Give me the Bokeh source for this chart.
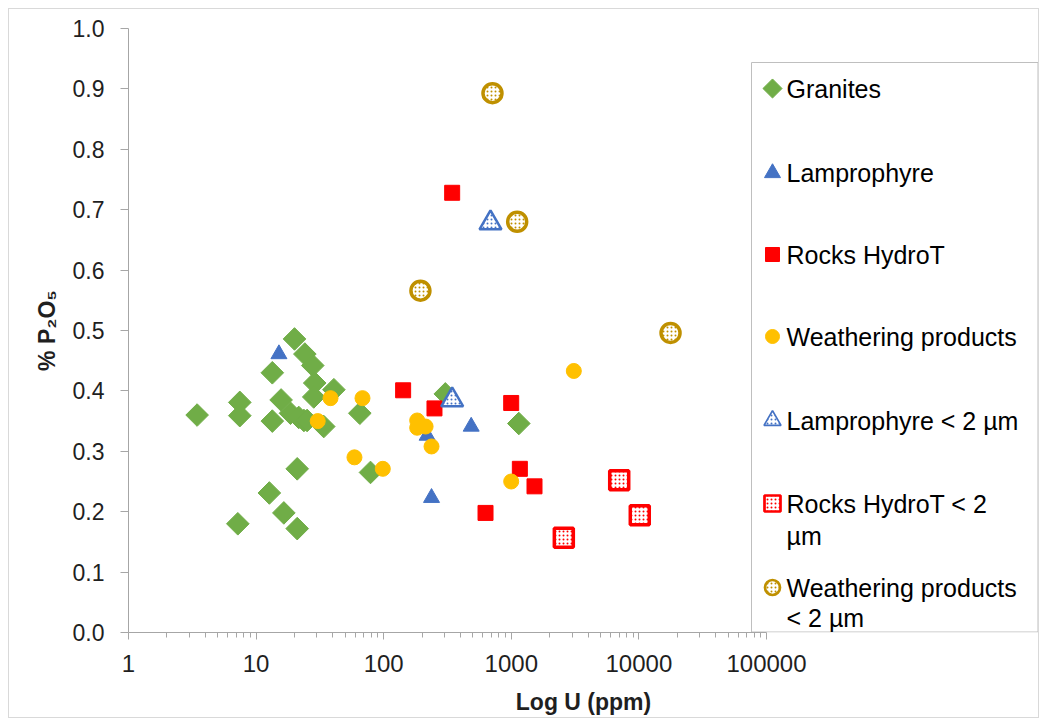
import numpy as np
from bokeh.plotting import figure
from bokeh.models import Range1d, FixedTicker, PrintfTickFormatter, NumeralTickFormatter
from bokeh.core.properties import value
from bokeh.embed import file_html
from bokeh.resources import INLINE

# ---------------- data ----------------
granite_u = [3.45, 7.19, 7.45, 7.45, 13.4, 13.4, 12.7, 15.7, 16.5, 20.0, 18.6, 21.0, 21.0,
             24.1, 23.7, 21.6, 25.1, 27.8, 28.8, 28.3, 33.9, 40.7, 65.0, 78.8, 304, 1145]
granite_p = [0.360, 0.180, 0.381, 0.359, 0.430, 0.350, 0.231, 0.385, 0.198, 0.486, 0.363, 0.271, 0.172,
             0.461, 0.351, 0.356, 0.351, 0.442, 0.413, 0.390, 0.341, 0.402, 0.363, 0.265, 0.395, 0.346]

lamp_u = [15.1, 219, 485, 237]
lamp_p = [0.461, 0.326, 0.341, 0.223]

rocks_u = [344, 142, 250, 998, 1167, 1520, 628]
rocks_p = [0.728, 0.401, 0.371, 0.380, 0.271, 0.242, 0.198]

weath_u = [38.3, 68.2, 30.4, 59.0, 98.4, 183, 213, 183, 237, 998, 3090]
weath_p = [0.388, 0.388, 0.350, 0.290, 0.271, 0.351, 0.341, 0.339, 0.308, 0.250, 0.433]

lamp2_u = [344, 687]
lamp2_p = [0.385, 0.678]

rocks2_u = [7010, 10160, 2580]
rocks2_p = [0.252, 0.194, 0.157]

weath2_u = [712, 1112, 194, 17700]
weath2_p = [0.893, 0.680, 0.566, 0.496]

X_TICKS = [1, 10, 100, 1000, 10000, 100000]
X_MINOR = [m * d for d in [1, 10, 100, 1000, 10000] for m in [2, 3, 4, 5, 6, 7, 8, 9]]
Y_TICKS = [0.0, 0.1, 0.2, 0.3, 0.4, 0.5, 0.6, 0.7, 0.8, 0.9, 1.0]

LEGEND_LABELS = ["Granites", "Lamprophyre", "Rocks HydroT", "Weathering products",
                 "Lamprophyre < 2 µm", "Rocks HydroT < 2", "Weathering products"]
LEGEND_LINE2 = ["", "", "", "", "", "µm", "< 2 µm"]

# ---------------- layout (page pixels) ----------------
OFF = 9                      # 8px margin + 1px border
W, H = 1031, 710
FRAME_L, FRAME_R, FRAME_T, FRAME_B = 128, 1038, 28, 632
DECADE_PX = 127.6


def px_to_x(px):
    return 10 ** ((px - FRAME_L) / DECADE_PX)


def py_to_y(py):
    return (FRAME_B - py) / (FRAME_B - FRAME_T)


p = figure(width=W, height=H, x_axis_type="log",
           x_range=Range1d(1, px_to_x(FRAME_R)), y_range=Range1d(0, 1),
           output_backend="svg", toolbar_location=None,
           min_border_left=FRAME_L - OFF, min_border_top=FRAME_T - OFF,
           min_border_right=W - (FRAME_R - OFF), min_border_bottom=H - (FRAME_B - OFF))
p.styles = {"border": "1px solid #d9d9d9", "margin-left": "8px", "margin-top": "8px"}
p.background_fill_color = "white"
p.border_fill_color = "white"
p.outline_line_color = None
p.xgrid.visible = False
p.ygrid.visible = False

AX = "#a6a6a6"
TXT = "#1f1f1f"
FONT = "Liberation Sans"

xa = p.xaxis[0]
xa.ticker = FixedTicker(ticks=X_TICKS, minor_ticks=X_MINOR)
xa.formatter = NumeralTickFormatter(format="0")
xa.bounds = (X_TICKS[0], X_TICKS[-1])
xa.axis_line_color = AX
xa.major_tick_line_color = AX
xa.minor_tick_line_color = AX
xa.major_tick_in = 0
xa.major_tick_out = 7
xa.minor_tick_in = 0
xa.minor_tick_out = 5
xa.major_label_standoff = 15
xa.major_label_text_font = FONT
xa.major_label_text_font_size = "24px"
xa.major_label_text_color = TXT
xa.axis_label = "Log U (ppm)"
xa.axis_label_text_font = FONT
xa.axis_label_text_font_size = "23px"
xa.axis_label_text_font_style = "bold"
xa.axis_label_text_color = TXT
xa.axis_label_standoff = 14

ya = p.yaxis[0]
ya.ticker = FixedTicker(ticks=Y_TICKS, minor_ticks=[])
ya.formatter = PrintfTickFormatter(format="%.1f")
ya.axis_line_color = AX
ya.major_tick_line_color = AX
ya.minor_tick_line_color = None
ya.major_tick_in = 0
ya.major_tick_out = 8
ya.major_label_standoff = 16
ya.major_label_text_font = FONT
ya.major_label_text_font_size = "23px"
ya.major_label_text_color = TXT
ya.axis_label = "% P₂O₅"
ya.axis_label_text_font = FONT
ya.axis_label_text_font_size = "23px"
ya.axis_label_text_font_style = "bold"
ya.axis_label_text_color = TXT
ya.axis_label_standoff = 10

GREEN, BLUE, RED, GOLD, DGOLD = "#70AD47", "#4472C4", "#FF0000", "#FFC000", "#BF9000"

styles = [
    dict(marker="square", angle=np.pi / 4, fill_color=GREEN, line_color=GREEN, line_width=1),
    dict(marker="triangle", fill_color=BLUE, line_color=BLUE, line_width=1),
    dict(marker="square", fill_color=RED, line_color=RED, line_width=1),
    dict(marker="circle", fill_color=GOLD, line_color=GOLD, line_width=1),
    dict(marker="triangle", fill_color="white", line_color=BLUE, line_width=2.5,
         hatch_pattern="dot", hatch_color=BLUE, hatch_scale=4, hatch_weight=1),
    dict(marker="square", fill_color="white", line_color=RED, line_width=3.5,
         hatch_pattern="dot", hatch_color=RED, hatch_scale=4, hatch_weight=1.2),
    dict(marker="circle", fill_color="white", line_color=DGOLD, line_width=3.5,
         hatch_pattern="dot", hatch_color=DGOLD, hatch_scale=4, hatch_weight=1),
]
plot_sizes = [16, 16, 15, 15, 22, 19, 19]
legend_sizes = [13.5, 16, 14, 14, 17, 16, 15]

series = [(granite_u, granite_p), (lamp_u, lamp_p), (rocks_u, rocks_p), (weath_u, weath_p),
          (lamp2_u, lamp2_p), (rocks2_u, rocks2_p), (weath2_u, weath2_p)]

for (xs, ys), st, sz in zip(series, styles, plot_sizes):
    p.scatter(x=xs, y=ys, size=sz, **st)

# ---------------- legend (drawn inside the extended frame) ----------------
p.quad(left=[px_to_x(751)], right=[px_to_x(1037.5)], top=[py_to_y(62)], bottom=[py_to_y(631.5)],
       fill_color="white", line_color="#bfbfbf", line_width=1)

leg_rows_px = [88, 172.5, 254, 336, 420, 503, 587]
leg_line2_px = [None, None, None, None, None, 535, 617]
mx = px_to_x(772)
tx = px_to_x(786)
for i, st in enumerate(styles):
    p.scatter(x=[mx], y=[py_to_y(leg_rows_px[i])], size=legend_sizes[i],
              **{k: (max(1.5, v - 0.8) if k == "line_width" and v > 1 else v) for k, v in st.items()})

txt_x, txt_y, txt_s = [], [], []
for i, lab in enumerate(LEGEND_LABELS):
    txt_x.append(tx); txt_y.append(py_to_y(leg_rows_px[i])); txt_s.append(lab)
    if LEGEND_LINE2[i]:
        txt_x.append(tx); txt_y.append(py_to_y(leg_line2_px[i])); txt_s.append(LEGEND_LINE2[i])
p.text(x=txt_x, y=txt_y, text=txt_s, text_font=value(FONT), text_font_size="25px",
       text_baseline="middle", text_align="left", text_color="black")

open("out.html", "w").write(file_html(p, INLINE))
